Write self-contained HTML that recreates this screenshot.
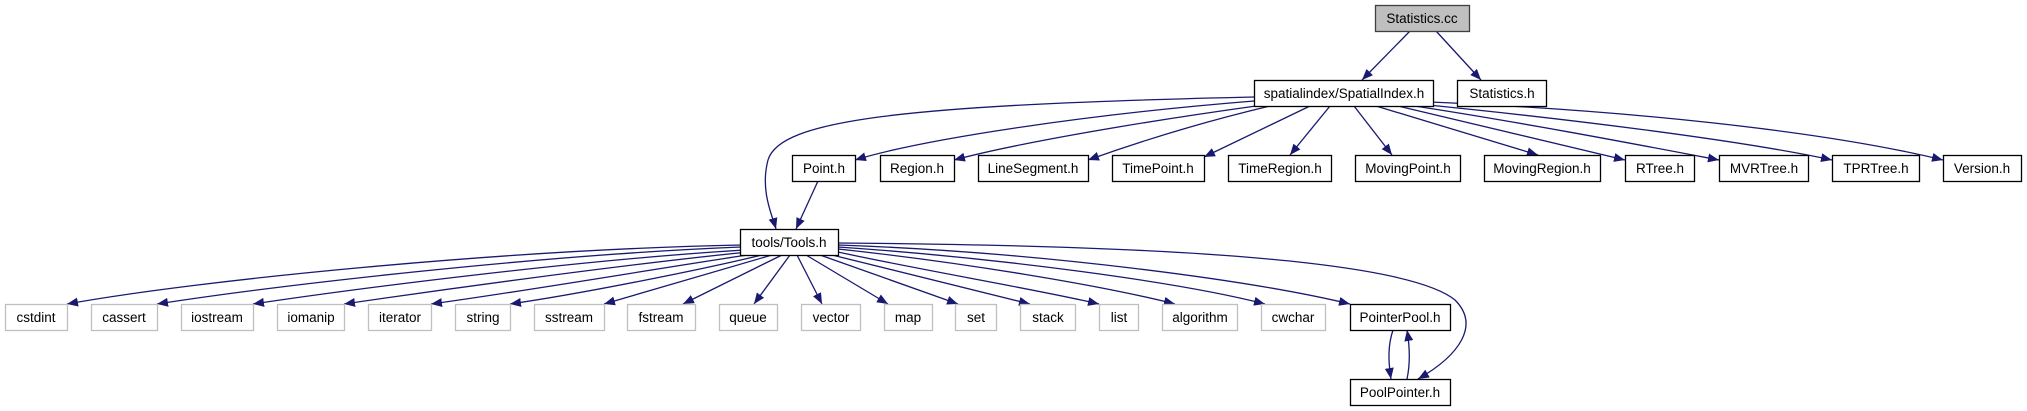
<!DOCTYPE html>
<html><head><meta charset="utf-8"><style>
html,body{margin:0;padding:0;background:#fff;}
svg{display:block}
text{font-family:"Liberation Sans",sans-serif;font-size:13.5px;fill:#000}
</style></head><body>
<svg width="2027" height="411" viewBox="0 0 2027 411" xmlns="http://www.w3.org/2000/svg">
<defs>
<marker id="a" markerUnits="userSpaceOnUse" markerWidth="12" markerHeight="10" refX="11" refY="4.5" orient="auto">
<path d="M0,0 L11,4.5 L0,9 Z" fill="#191970"/>
</marker>
</defs>
<g fill="none" stroke="#191970" stroke-width="1.3" marker-end="url(#a)">
<!-- Statistics.cc -->
<path d="M1410,31 L1362,80"/>
<path d="M1436,31 L1481,80"/>
<!-- SpatialIndex -->
<path d="M1254,97 C900,105 780,120 768,160 C760,190 772,215 776,229"/>
<path d="M1254,101 C1080,115 920,140 855,160"/>
<path d="M1256,106 C1120,125 1010,145 954,160"/>
<path d="M1270,106 C1190,125 1130,145 1088,160"/>
<path d="M1310,106 L1204,157"/>
<path d="M1330,106 L1290,155"/>
<path d="M1354,106 L1392,155"/>
<path d="M1376,106 L1538,155"/>
<path d="M1398,106 C1480,125 1560,145 1625,160"/>
<path d="M1408,105 C1520,122 1640,145 1719,160"/>
<path d="M1418,104 C1560,118 1740,140 1832,160"/>
<path d="M1430,102 C1620,110 1820,130 1943,160"/>
<!-- Point -> Tools -->
<path d="M818,181 L796,229"/>
<!-- Tools -> bottom row -->
<path d="M741,245 C500,250 200,280 67,304"/>
<path d="M741,247 C540,255 280,285 157,304"/>
<path d="M744,250 C580,260 360,288 253,304"/>
<path d="M748,252 C620,265 440,290 344,304"/>
<path d="M754,254 C660,268 520,292 431,304"/>
<path d="M762,255 C700,270 580,294 510,304"/>
<path d="M772,255 L604,304"/>
<path d="M782,255 L683,304"/>
<path d="M790,255 L754,304"/>
<path d="M797,255 L822,304"/>
<path d="M806,255 L888,304"/>
<path d="M820,255 L958,304"/>
<path d="M832,255 L1030,304"/>
<path d="M838,252 C920,270 1040,290 1099,304"/>
<path d="M838,249 C960,262 1100,285 1175,304"/>
<path d="M838,247 C1000,258 1180,282 1265,304"/>
<path d="M838,245 C1040,252 1250,280 1350,304"/>
<path d="M838,243 C1100,245 1400,255 1455,300 C1480,325 1460,355 1418,379"/>
<!-- PointerPool <-> PoolPointer -->
<path d="M1393,330 C1388,345 1388,360 1391,379"/>
<path d="M1407,379 C1410,365 1410,348 1407,330"/>
</g>
<g stroke-width="1.3">
<rect x="1375.5" y="5.5" width="94" height="26" fill="#bfbfbf" stroke="#404040"/>
<rect x="1254.5" y="80.5" width="179" height="26" fill="#fff" stroke="#000"/>
<rect x="1457.5" y="80.5" width="89" height="26" fill="#fff" stroke="#000"/>
<rect x="792.5" y="155.5" width="63" height="26" fill="#fff" stroke="#000"/>
<rect x="880.5" y="155.5" width="74" height="26" fill="#fff" stroke="#000"/>
<rect x="978.5" y="155.5" width="110" height="26" fill="#fff" stroke="#000"/>
<rect x="1112.5" y="155.5" width="92" height="26" fill="#fff" stroke="#000"/>
<rect x="1228.5" y="155.5" width="103" height="26" fill="#fff" stroke="#000"/>
<rect x="1355.5" y="155.5" width="105" height="26" fill="#fff" stroke="#000"/>
<rect x="1484.5" y="155.5" width="116" height="26" fill="#fff" stroke="#000"/>
<rect x="1625.5" y="155.5" width="69" height="26" fill="#fff" stroke="#000"/>
<rect x="1719.5" y="155.5" width="89" height="26" fill="#fff" stroke="#000"/>
<rect x="1832.5" y="155.5" width="87" height="26" fill="#fff" stroke="#000"/>
<rect x="1943.5" y="155.5" width="78" height="26" fill="#fff" stroke="#000"/>
<rect x="740.5" y="229.5" width="98" height="26" fill="#fff" stroke="#000"/>
<g fill="#fff" stroke="#bfbfbf">
<rect x="5.5" y="304.5" width="62" height="26"/>
<rect x="91.5" y="304.5" width="66" height="26"/>
<rect x="181.5" y="304.5" width="72" height="26"/>
<rect x="277.5" y="304.5" width="67" height="26"/>
<rect x="368.5" y="304.5" width="63" height="26"/>
<rect x="455.5" y="304.5" width="55" height="26"/>
<rect x="534.5" y="304.5" width="70" height="26"/>
<rect x="627.5" y="304.5" width="68" height="26"/>
<rect x="719.5" y="304.5" width="58" height="26"/>
<rect x="801.5" y="304.5" width="59" height="26"/>
<rect x="884.5" y="304.5" width="48" height="26"/>
<rect x="955.5" y="304.5" width="41" height="26"/>
<rect x="1020.5" y="304.5" width="55" height="26"/>
<rect x="1099.5" y="304.5" width="39" height="26"/>
<rect x="1162.5" y="304.5" width="75" height="26"/>
<rect x="1261.5" y="304.5" width="64" height="26"/>
</g>
<rect x="1350.5" y="304.5" width="100" height="26" fill="#fff" stroke="#000"/>
<rect x="1350.5" y="379.5" width="100" height="26" fill="#fff" stroke="#000"/>
</g>
<g text-anchor="middle">
<text x="1422" y="23">Statistics.cc</text>
<text x="1344" y="98">spatialindex/SpatialIndex.h</text>
<text x="1502" y="98">Statistics.h</text>
<text x="824" y="173">Point.h</text>
<text x="917" y="173">Region.h</text>
<text x="1033" y="173">LineSegment.h</text>
<text x="1158" y="173">TimePoint.h</text>
<text x="1280" y="173">TimeRegion.h</text>
<text x="1408" y="173">MovingPoint.h</text>
<text x="1542" y="173">MovingRegion.h</text>
<text x="1660" y="173">RTree.h</text>
<text x="1764" y="173">MVRTree.h</text>
<text x="1876" y="173">TPRTree.h</text>
<text x="1982" y="173">Version.h</text>
<text x="789" y="247">tools/Tools.h</text>
<text x="36" y="322">cstdint</text>
<text x="124" y="322">cassert</text>
<text x="217" y="322">iostream</text>
<text x="311" y="322">iomanip</text>
<text x="400" y="322">iterator</text>
<text x="483" y="322">string</text>
<text x="569" y="322">sstream</text>
<text x="661" y="322">fstream</text>
<text x="748" y="322">queue</text>
<text x="831" y="322">vector</text>
<text x="908" y="322">map</text>
<text x="976" y="322">set</text>
<text x="1048" y="322">stack</text>
<text x="1119" y="322">list</text>
<text x="1200" y="322">algorithm</text>
<text x="1293" y="322">cwchar</text>
<text x="1400" y="322">PointerPool.h</text>
<text x="1400" y="397">PoolPointer.h</text>
</g>
</svg>
</body></html>
